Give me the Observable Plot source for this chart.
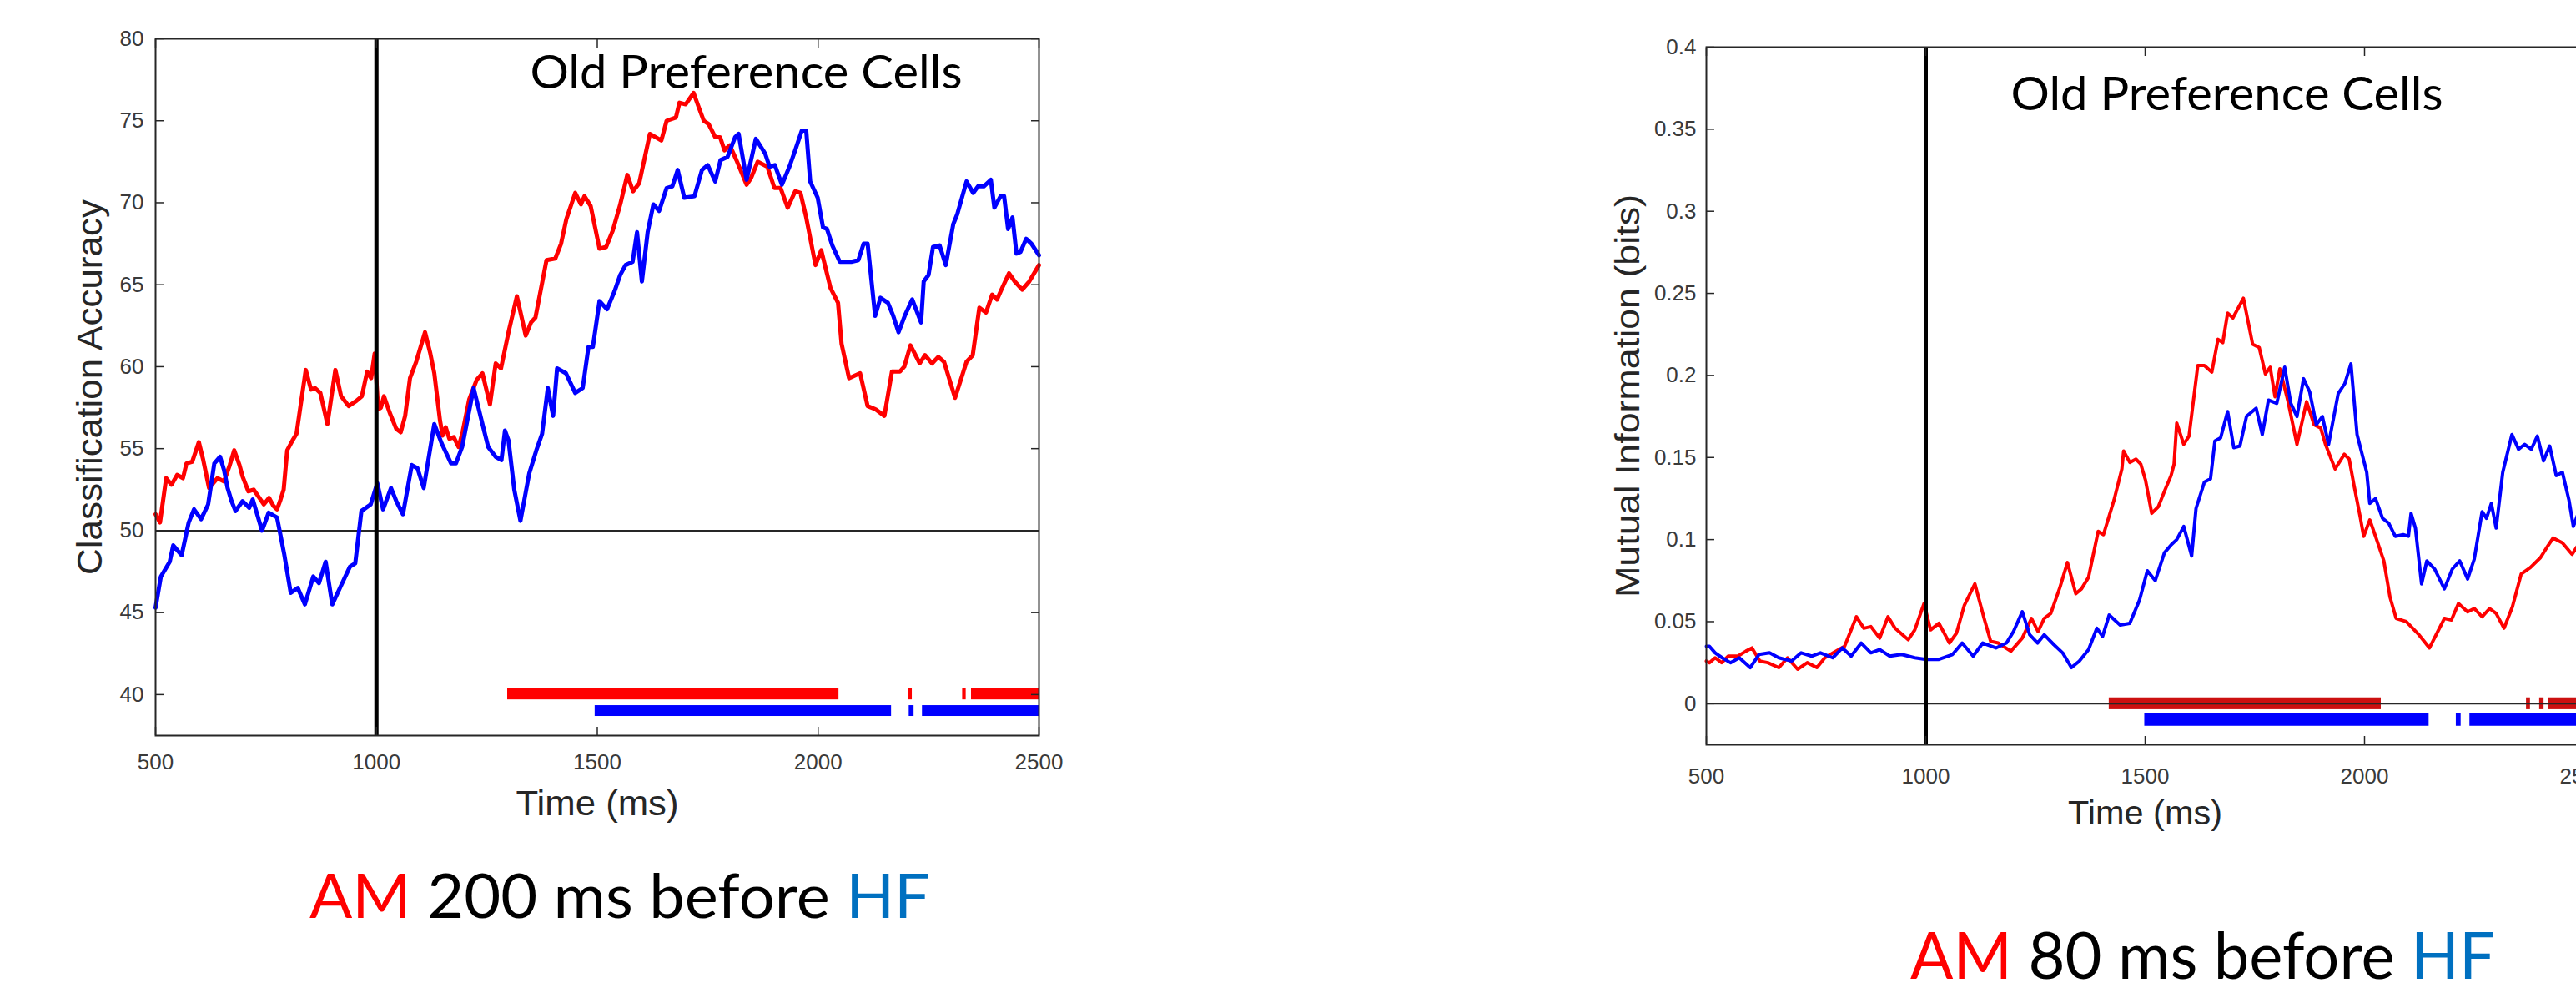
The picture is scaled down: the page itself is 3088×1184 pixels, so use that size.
<!DOCTYPE html>
<html><head><meta charset="utf-8">
<script src="https://cdn.jsdelivr.net/npm/d3@7"></script>
<script src="https://cdn.jsdelivr.net/npm/@observablehq/plot@0.6"></script>
<style>
html,body{margin:0;padding:0;background:#fff;overflow:hidden;}
#stage{position:relative;width:3088px;height:1184px;overflow:hidden;background:#fff;}
.panel{position:absolute;top:0;}
.caption{position:absolute;font-family:Lato,"Open Sans",sans-serif;white-space:nowrap;line-height:0.85;transform-origin:0 0;color:#000;}
.am{color:#ff0000}.hf{color:#0070c0}
.bl{display:inline-block;width:0;height:0;vertical-align:baseline;}
</style></head><body><div id="stage"></div>
<script>
// ---------- DATA ----------
const xTicks = [500, 1000, 1500, 2000, 2500];
const accTicks = [40, 45, 50, 55, 60, 65, 70, 75, 80];
const miTicks = [0, 0.05, 0.1, 0.15, 0.2, 0.25, 0.3, 0.35, 0.4];

// Classification accuracy, AM (red)
const accAM = [[500,51.0],[510,50.5],[524,53.2],[536,52.8],[549,53.4],[562,53.2],[570,54.1],[583,54.2],[598,55.4],[608,54.3],[621,52.6],[640,53.2],[655,53.0],[668,54.0],[678,54.9],[690,54.0],[697,53.3],[710,52.4],[722,52.5],[735,52.0],[745,51.6],[757,52.0],[767,51.5],[775,51.3],[783,51.9],[790,52.5],[798,54.9],[810,55.5],[819,55.9],[840,59.8],[852,58.6],[861,58.7],[873,58.4],[889,56.5],[907,59.8],[920,58.2],[937,57.6],[954,57.9],[967,58.2],[979,59.7],[988,59.3],[996,60.8],[1004,57.4],[1010,57.5],[1017,58.2],[1030,57.2],[1045,56.2],[1055,56.0],[1065,57.0],[1076,59.3],[1090,60.3],[1110,62.1],[1122,60.8],[1131,59.6],[1144,56.7],[1150,55.8],[1157,56.3],[1165,55.6],[1175,55.7],[1186,55.1],[1195,56.0],[1210,58.0],[1227,59.2],[1240,59.6],[1257,57.7],[1270,60.2],[1282,59.9],[1299,62.1],[1318,64.3],[1338,61.9],[1350,62.7],[1360,63.0],[1385,66.5],[1405,66.6],[1418,67.5],[1430,69.0],[1450,70.6],[1463,69.9],[1471,70.4],[1485,69.8],[1505,67.2],[1520,67.3],[1535,68.3],[1552,69.9],[1568,71.7],[1581,70.7],[1595,71.2],[1619,74.2],[1632,74.0],[1645,73.8],[1657,75.0],[1678,75.2],[1686,76.1],[1700,76.0],[1718,76.7],[1730,75.8],[1741,75.0],[1752,74.8],[1767,74.0],[1778,74.0],[1788,73.2],[1800,73.5],[1815,72.6],[1838,71.1],[1848,71.5],[1863,72.5],[1885,72.2],[1901,70.9],[1915,70.9],[1931,69.7],[1948,70.7],[1960,70.6],[1973,69.1],[1994,66.2],[2007,67.1],[2028,64.8],[2045,63.9],[2053,61.4],[2070,59.3],[2095,59.6],[2112,57.6],[2130,57.4],[2150,57.0],[2167,59.7],[2185,59.7],[2195,60.0],[2209,61.3],[2230,60.2],[2242,60.7],[2258,60.2],[2272,60.6],[2285,60.3],[2310,58.1],[2336,60.3],[2350,60.7],[2365,63.6],[2380,63.3],[2394,64.4],[2405,64.1],[2415,64.7],[2432,65.7],[2445,65.2],[2462,64.7],[2478,65.2],[2500,66.2]];
// Classification accuracy, HF (blue)
const accHF = [[500,45.3],[512,47.2],[532,48.1],[540,49.1],[559,48.5],[575,50.5],[587,51.3],[603,50.7],[619,51.6],[633,54.1],[646,54.5],[655,53.7],[663,52.6],[672,51.8],[681,51.2],[697,51.8],[712,51.4],[720,51.9],[741,50.0],[756,51.1],[775,50.8],[791,48.6],[806,46.2],[822,46.5],[838,45.5],[857,47.2],[870,46.8],[885,48.1],[900,45.5],[919,46.6],[940,47.8],[952,48.0],[966,51.2],[987,51.6],[1002,52.9],[1015,51.3],[1033,52.6],[1045,51.8],[1060,51.0],[1080,54.0],[1093,53.8],[1107,52.6],[1131,56.5],[1148,55.3],[1169,54.1],[1180,54.1],[1194,55.1],[1220,58.7],[1240,56.5],[1253,55.1],[1270,54.5],[1283,54.3],[1291,56.1],[1299,55.5],[1312,52.5],[1326,50.6],[1346,53.5],[1362,54.9],[1375,55.9],[1388,58.7],[1400,57.0],[1409,59.9],[1429,59.6],[1450,58.4],[1467,58.7],[1480,61.2],[1490,61.2],[1505,64.0],[1522,63.5],[1539,64.6],[1552,65.6],[1564,66.2],[1580,66.4],[1590,68.2],[1601,65.2],[1614,68.2],[1627,69.9],[1640,69.5],[1657,70.9],[1670,71.0],[1682,72.0],[1697,70.3],[1720,70.4],[1737,72.0],[1750,72.3],[1767,71.3],[1779,72.6],[1795,72.8],[1812,74.0],[1820,74.2],[1838,71.4],[1859,73.9],[1880,73.0],[1890,72.2],[1902,72.3],[1918,71.1],[1935,72.2],[1948,73.2],[1963,74.4],[1973,74.4],[1982,71.3],[1999,70.3],[2011,68.5],[2020,68.4],[2032,67.4],[2049,66.4],[2075,66.4],[2091,66.5],[2103,67.5],[2112,67.5],[2129,63.1],[2141,64.2],[2158,63.9],[2170,63.1],[2182,62.1],[2196,63.1],[2213,64.1],[2233,62.7],[2239,65.2],[2250,65.6],[2260,67.3],[2275,67.4],[2289,66.2],[2306,68.7],[2315,69.3],[2336,71.3],[2351,70.6],[2362,71.0],[2375,71.0],[2391,71.4],[2399,69.7],[2413,70.4],[2421,70.4],[2430,68.4],[2440,69.1],[2449,66.9],[2458,67.0],[2471,67.8],[2483,67.5],[2500,66.8]];

// Mutual information, AM (red)
const miAM = [[500,0.026],[507,0.025],[520,0.028],[535,0.025],[550,0.029],[572,0.029],[590,0.032],[604,0.034],[622,0.026],[640,0.025],[665,0.022],[685,0.028],[708,0.021],[730,0.025],[752,0.022],[770,0.028],[795,0.032],[815,0.035],[842,0.053],[859,0.046],[875,0.047],[895,0.040],[914,0.053],[930,0.046],[960,0.039],[975,0.045],[996,0.061],[1011,0.045],[1030,0.049],[1054,0.037],[1070,0.043],[1088,0.060],[1112,0.073],[1133,0.052],[1148,0.038],[1165,0.037],[1194,0.032],[1220,0.040],[1241,0.052],[1256,0.044],[1270,0.052],[1285,0.055],[1306,0.071],[1323,0.086],[1342,0.067],[1355,0.070],[1371,0.077],[1393,0.105],[1405,0.103],[1429,0.124],[1447,0.143],[1451,0.154],[1465,0.147],[1479,0.149],[1490,0.146],[1501,0.136],[1515,0.116],[1530,0.120],[1545,0.130],[1559,0.139],[1566,0.146],[1572,0.171],[1588,0.158],[1600,0.163],[1620,0.206],[1635,0.206],[1652,0.202],[1666,0.222],[1677,0.220],[1688,0.238],[1700,0.235],[1710,0.240],[1724,0.247],[1745,0.219],[1760,0.217],[1774,0.201],[1785,0.205],[1796,0.187],[1807,0.204],[1825,0.185],[1846,0.158],[1868,0.184],[1885,0.170],[1900,0.168],[1911,0.158],[1933,0.143],[1954,0.152],[1965,0.149],[1976,0.133],[1990,0.114],[1998,0.102],[2012,0.112],[2025,0.102],[2044,0.087],[2058,0.065],[2072,0.052],[2095,0.050],[2124,0.042],[2148,0.034],[2167,0.044],[2182,0.052],[2198,0.051],[2214,0.061],[2235,0.056],[2250,0.058],[2268,0.053],[2285,0.058],[2300,0.055],[2318,0.046],[2337,0.059],[2357,0.079],[2378,0.083],[2401,0.089],[2415,0.095],[2430,0.101],[2451,0.098],[2473,0.091],[2490,0.098],[2500,0.100]];
// Mutual information, HF (blue)
const miHF = [[500,0.035],[507,0.035],[520,0.031],[536,0.028],[555,0.025],[575,0.028],[600,0.022],[620,0.030],[644,0.031],[665,0.028],[694,0.026],[716,0.031],[740,0.029],[760,0.031],[788,0.028],[810,0.034],[830,0.029],[853,0.037],[875,0.031],[895,0.033],[918,0.029],[945,0.030],[975,0.028],[1001,0.027],[1030,0.027],[1061,0.030],[1083,0.037],[1108,0.029],[1130,0.037],[1160,0.034],[1184,0.037],[1200,0.044],[1220,0.056],[1237,0.042],[1255,0.037],[1270,0.042],[1292,0.036],[1312,0.031],[1332,0.022],[1350,0.026],[1371,0.033],[1390,0.046],[1403,0.041],[1418,0.054],[1443,0.048],[1465,0.049],[1487,0.063],[1505,0.081],[1523,0.075],[1544,0.092],[1560,0.097],[1572,0.100],[1588,0.108],[1606,0.090],[1616,0.119],[1635,0.135],[1649,0.137],[1659,0.160],[1672,0.162],[1688,0.178],[1702,0.156],[1716,0.157],[1731,0.175],[1753,0.180],[1767,0.164],[1781,0.185],[1800,0.183],[1818,0.205],[1832,0.183],[1846,0.175],[1861,0.198],[1875,0.190],[1890,0.170],[1904,0.175],[1918,0.158],[1940,0.189],[1955,0.195],[1969,0.207],[1983,0.164],[2005,0.141],[2012,0.122],[2025,0.125],[2041,0.113],[2055,0.110],[2070,0.102],[2088,0.103],[2100,0.102],[2106,0.116],[2116,0.107],[2130,0.073],[2142,0.087],[2160,0.082],[2182,0.070],[2200,0.082],[2217,0.087],[2235,0.076],[2250,0.088],[2268,0.117],[2278,0.113],[2289,0.122],[2300,0.107],[2315,0.141],[2336,0.164],[2351,0.155],[2365,0.158],[2380,0.155],[2394,0.163],[2408,0.148],[2422,0.157],[2437,0.139],[2451,0.141],[2466,0.124],[2476,0.108],[2490,0.118],[2500,0.120]];

// Significance periods (ms)
const accSigAM = [[1297,2047],[2205,2213],[2327,2335],[2347,2500]];
const accSigHF = [[1495,2166],[2206,2217],[2236,2500]];
const miSigAM = [[1418,2038],[2369,2378],[2399,2409],[2420,2500]];
const miSigHF = [[1499,2147],[2209,2220],[2240,2500]];
// Significance bar bands (y value ranges)
const accBandAM = [39.68, 40.35];
const accBandHF = [38.67, 39.33];
const miBandAM = [-0.0036, 0.0036];
const miBandHF = [-0.0137, -0.0061];

const eventTime = [1000];
const accChance = [50];
const miBaseline = [0];
const panelTitle = "Old Preference Cells";
const xLabel = "Time (ms)";
const accLabel = "Classification Accuracy";
const miLabel = "Mutual Information (bits)";
const accTitlePos = {t: 1348, v: 77.9};
const miTitlePos = {t: 1194, v: 0.3705};

// ---------- RENDER ----------
const stage = document.getElementById("stage");
const rows = (pairs) => pairs.map(([t, v]) => ({t, v}));
const spans = (pairs) => pairs.map(([a, b]) => ({a, b}));

function fitText(svg, content, len) {
  for (const t of svg.querySelectorAll("text")) {
    if (t.textContent === content) {
      t.setAttribute("textLength", len);
      t.setAttribute("lengthAdjust", "spacingAndGlyphs");
    }
  }
}

function makePanel(o) {
  const svg = Plot.plot({
    width: o.width, height: 1000,
    marginLeft: o.ml, marginRight: o.mr, marginTop: o.mt, marginBottom: o.mb,
    style: {fontFamily: "'Liberation Sans', Arial, sans-serif", color: "#262626", background: "transparent", overflow: "visible"},
    x: {domain: [500, 2500], label: null},
    y: {domain: o.ydomain, label: null},
    marks: [
      Plot.rect(spans(o.sigAM), {x1: "a", x2: "b", y1: () => o.bandAM[0], y2: () => o.bandAM[1], fill: o.barRed}),
      Plot.rect(spans(o.sigHF), {x1: "a", x2: "b", y1: () => o.bandHF[0], y2: () => o.bandHF[1], fill: "#0000ff"}),
      Plot.ruleY(o.base, {stroke: "#262626", strokeWidth: 2}),
      Plot.line(rows(o.am), {x: "t", y: "v", stroke: "#ff0000", strokeWidth: o.lw}),
      Plot.line(rows(o.hf), {x: "t", y: "v", stroke: "#0000ff", strokeWidth: o.lw}),
      Plot.ruleX(eventTime, {stroke: "#000", strokeWidth: 5}),
      Plot.axisY(o.yticks, {anchor: "left", tickSize: -10, tickPadding: o.ytp, tickFormat: o.yfmt, fontSize: 26, label: null, fill: "#3a3a3a", stroke: "#262626", strokeWidth: 1.5}),
      Plot.axisY(o.yticks, {anchor: "right", tickSize: -10, tickFormat: () => "", label: null, stroke: "#262626", strokeWidth: 1.5}),
      Plot.axisX(xTicks, {anchor: "bottom", tickSize: -10, tickPadding: o.xtp, tickFormat: d => String(d), fontSize: 26, label: null, fill: "#3a3a3a", stroke: "#262626", strokeWidth: 1.5}),
      Plot.axisX(xTicks, {anchor: "top", tickSize: -10, tickFormat: () => "", label: null, stroke: "#262626", strokeWidth: 1.5}),
      Plot.frame({stroke: "#262626", strokeWidth: 2}),
      Plot.text([panelTitle], {x: () => o.titlePos.t, y: () => o.titlePos.v, text: d => d, textAnchor: "start", lineAnchor: "middle", fontSize: 56, fontFamily: "Lato, 'Open Sans', sans-serif", fill: "#000"}),
      Plot.text([o.ylabel], {frameAnchor: "left", text: d => d, rotate: -90, textAnchor: "start", dx: o.ylx, dy: o.ylLen / 2, lineAnchor: "middle", fontSize: o.ylfs, fill: "#262626"}),
      Plot.text([xLabel], {frameAnchor: "bottom", text: d => d, textAnchor: "start", dx: -o.xlLen / 2, dy: 82, lineAnchor: "middle", fontSize: o.xlfs, fill: "#262626"})
    ]
  });
  svg.classList.add("panel");
  svg.style.left = o.left + "px";
  stage.appendChild(svg);
  fitText(svg, panelTitle, 518);
  fitText(svg, o.ylabel, o.ylLen);
  fitText(svg, xLabel, o.xlLen);
  return svg;
}

makePanel({
  left: 0, width: 1300, ml: 186, mr: 55, mt: 46, mb: 119,
  ydomain: [37.5, 80], yticks: accTicks, base: accChance, yfmt: d => String(d),
  am: accAM, hf: accHF, sigAM: accSigAM, sigHF: accSigHF, bandAM: accBandAM, bandHF: accBandHF,
  barRed: "#ff0000", lw: 5, ytp: 24, xtp: 32, titlePos: accTitlePos,
  ylabel: accLabel, ylx: -78, ylfs: 42, ylLen: 450, xlfs: 43, xlLen: 195
});
makePanel({
  left: 1900, width: 1250, ml: 145, mr: 53, mt: 56, mb: 108,
  ydomain: [-0.025, 0.4], yticks: miTicks, base: miBaseline, yfmt: d => String(d),
  am: miAM, hf: miHF, sigAM: miSigAM, sigHF: miSigHF, bandAM: miBandAM, bandHF: miBandHF,
  barRed: "#cc1010", lw: 4, ytp: 22, xtp: 38, titlePos: miTitlePos,
  ylabel: miLabel, ylx: -93, ylfs: 40, ylLen: 483, xlfs: 41, xlLen: 185
});

// ---------- CAPTIONS ----------
function caption(mid, left, baseline, width, size) {
  const d = document.createElement("div");
  d.className = "caption";
  d.style.left = left + "px";
  d.style.top = "0px";
  d.style.fontSize = size + "px";
  d.innerHTML = `<span class="am">AM</span> ${mid} <span class="hf">HF</span><span class="bl"></span>`;
  stage.appendChild(d);
  const bl = d.querySelector(".bl");
  const w = d.getBoundingClientRect().width;
  d.style.top = (baseline - bl.offsetTop) + "px";
  d.style.transform = `scaleX(${width / w})`;
}
caption("200 ms before", 371, 1100, 744, 74);
caption("80 ms before", 2290, 1173, 701, 77);
</script></body></html>
